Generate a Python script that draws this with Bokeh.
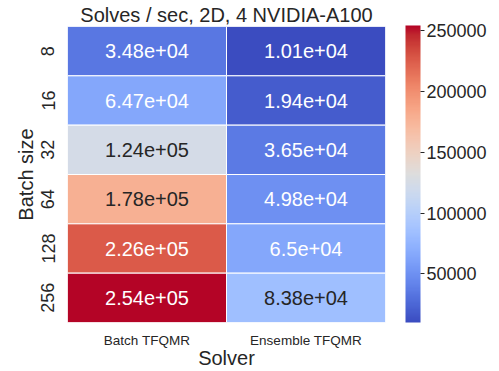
import numpy as np
from bokeh.plotting import figure
from bokeh.models import (FactorRange, LinearColorMapper, ColorBar, FixedTicker,
                          ColumnDataSource, BasicTickFormatter)
from bokeh.core.properties import value
from bokeh.embed import file_html
from bokeh.resources import INLINE

# ---- data ----
solvers = ["Batch TFQMR", "Ensemble TFQMR"]
batch_sizes = ["8", "16", "32", "64", "128", "256"]
batch_tfqmr = [34800, 64700, 124000, 178000, 226000, 254000]
ensemble_tfqmr = [10100, 19400, 36500, 49800, 65000, 83800]
labels_batch = ["3.48e+04", "6.47e+04", "1.24e+05", "1.78e+05", "2.26e+05", "2.54e+05"]
labels_ensemble = ["1.01e+04", "1.94e+04", "3.65e+04", "4.98e+04", "6.5e+04", "8.38e+04"]
cbar_ticks = [50000, 100000, 150000, 200000, 250000]

# ---- coolwarm palette (Moreland smooth cool-warm anchors) ----
cw_anchor = [
    (59, 76, 192), (68, 90, 204), (77, 104, 215), (87, 117, 225), (98, 130, 234),
    (108, 142, 241), (119, 154, 247), (130, 165, 251), (141, 176, 254), (152, 185, 255),
    (163, 194, 255), (174, 201, 253), (184, 208, 249), (194, 213, 244), (204, 217, 238),
    (213, 219, 230), (221, 221, 221), (229, 216, 209), (236, 211, 197), (241, 204, 185),
    (245, 196, 173), (247, 187, 160), (247, 177, 148), (247, 166, 135), (244, 154, 123),
    (241, 141, 111), (236, 127, 99), (229, 112, 88), (222, 96, 77), (213, 80, 66),
    (203, 62, 56), (192, 40, 47), (180, 4, 38)]
anc = np.array(cw_anchor, dtype=float)
apos = np.linspace(0, 1, len(anc))
tpos = np.linspace(0, 1, 256)
pal_rgb = np.stack([np.interp(tpos, apos, anc[:, k]) for k in range(3)], axis=1)
palette = ["#%02x%02x%02x" % tuple(int(round(c)) for c in row) for row in pal_rgb]

vals_all = batch_tfqmr + ensemble_tfqmr
vmin, vmax = min(vals_all), max(vals_all)
mapper = LinearColorMapper(palette=palette, low=vmin, high=vmax)


def text_color(v):
    idx = int(min(255, max(0, (v - vmin) / (vmax - vmin) * 256)))
    rgb = pal_rgb[idx] / 255.0
    lin = np.where(rgb <= 0.03928, rgb / 12.92, ((rgb + 0.055) / 1.055) ** 2.4)
    lum = 0.2126 * lin[0] + 0.7152 * lin[1] + 0.0722 * lin[2]
    return "#262626" if lum > 0.408 else "#ffffff"


xs, ys, vs, ts, tcs = [], [], [], [], []
for solver, vals, labs in [(solvers[0], batch_tfqmr, labels_batch),
                           (solvers[1], ensemble_tfqmr, labels_ensemble)]:
    for b, v, t in zip(batch_sizes, vals, labs):
        xs.append(solver)
        ys.append(b)
        vs.append(v)
        ts.append(t)
        tcs.append(text_color(v))

src = ColumnDataSource(dict(x=xs, y=ys, v=vs, t=ts, tc=tcs))

FONT = "Liberation Sans"
DARK = "#262626"

p = figure(width=483, height=355, output_backend="svg", toolbar_location=None,
           x_range=FactorRange(factors=solvers),
           y_range=FactorRange(factors=list(reversed(batch_sizes))),
           frame_width=318, frame_height=296,
           min_border_left=59, min_border_top=19, min_border_right=0, min_border_bottom=0,
           title="Solves / sec, 2D, 4 NVIDIA-A100")
p.margin = (0, 0, 0, 8)
p.x_range.range_padding = 0
p.y_range.range_padding = 0

p.rect(x="x", y="y", width=1, height=1, source=src,
       fill_color={"field": "v", "transform": mapper},
       line_color="white", line_width=1)
p.text(x="x", y="y", text="t", source=src, text_color="tc",
       text_align="center", text_baseline="middle",
       text_font=value(FONT), text_font_size="20px")

p.title.align = "center"
p.title.text_font = FONT
p.title.text_font_size = "20px"
p.title.text_font_style = "normal"
p.title.text_color = DARK
p.title.standoff = 2

p.grid.visible = False
p.outline_line_color = None
for ax in (p.xaxis[0], p.yaxis[0]):
    ax.axis_line_color = None
    ax.major_tick_line_color = None
    ax.minor_tick_line_color = None
    ax.major_tick_out = 0
    ax.major_tick_in = 0
    ax.minor_tick_out = 0
    ax.minor_tick_in = 0
    ax.axis_label_text_font = FONT
    ax.axis_label_text_font_size = "20px"
    ax.axis_label_text_font_style = "normal"
    ax.axis_label_text_color = DARK
    ax.major_label_text_font = FONT
    ax.major_label_text_color = DARK

p.xaxis.axis_label = "Solver"
p.yaxis.axis_label = "Batch size"
p.xaxis.major_label_text_font_size = "13.5px"
p.yaxis.major_label_text_font_size = "18px"
p.yaxis.major_label_orientation = "vertical"
p.xaxis.major_label_standoff = 10
p.yaxis.major_label_standoff = 13
p.xaxis.axis_label_standoff = -4
p.yaxis.axis_label_standoff = 2

cb = ColorBar(color_mapper=mapper, width=15, height=297, location=(20, 0),
              padding=0, margin=0,
              ticker=FixedTicker(ticks=cbar_ticks),
              formatter=BasicTickFormatter(use_scientific=False),
              major_label_text_font=FONT, major_label_text_font_size="18px",
              major_label_text_color=DARK, label_standoff=2,
              major_tick_in=0, major_tick_out=4, major_tick_line_color=DARK,
              minor_tick_line_color=None, bar_line_color=None,
              background_fill_color=None, border_line_color=None)
p.add_layout(cb, "right")

open("out.html", "w").write(file_html(p, INLINE))
